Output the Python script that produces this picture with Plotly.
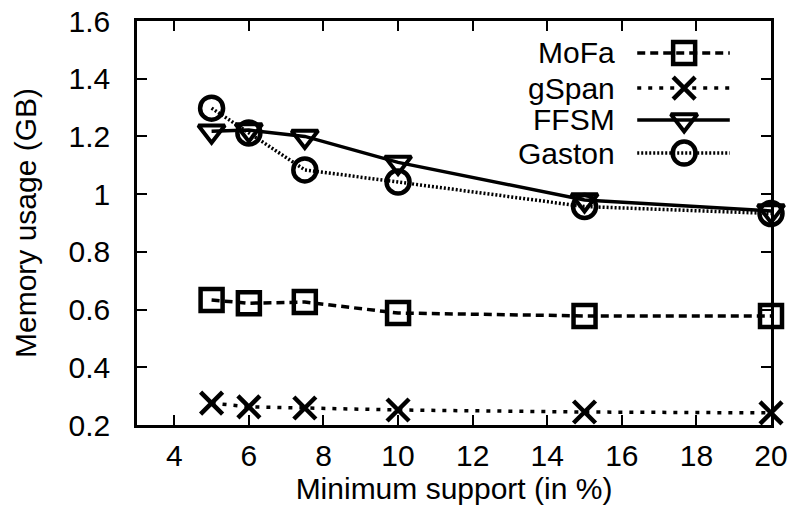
import plotly.graph_objects as go

support = [5, 6, 7.5, 10, 15, 20]
mofa = [0.633, 0.622, 0.626, 0.588, 0.578, 0.578]
gspan = [0.276, 0.263, 0.259, 0.252, 0.245, 0.242]
ffsm = [1.218, 1.222, 1.200, 1.110, 0.980, 0.942]
gaston = [1.298, 1.212, 1.084, 1.042, 0.957, 0.933]

x_ticks = [4, 6, 8, 10, 12, 14, 16, 18, 20]
y_ticks = [0.2, 0.4, 0.6, 0.8, 1.0, 1.2, 1.4, 1.6]
y_tick_text = ["0.2", "0.4", "0.6", "0.8", "1", "1.2", "1.4", "1.6"]

names = ["MoFa", "gSpan", "FFSM", "Gaston"]
series = [mofa, gspan, ffsm, gaston]
styles = [
    dict(dash="8px,5px", width=3.5, symbol="square-open", size=22, mlw=4.5),
    dict(dash="4px,7px", width=3.5, symbol="x-thin-open", size=22, mlw=4.5),
    dict(dash="solid", width=3.5, symbol="triangle-down-open", size=23, mlw=4),
    dict(dash="2px,2px", width=3.5, symbol="circle-open", size=23, mlw=4.5),
]

FONT = "Liberation Sans, Arial, Helvetica, sans-serif"
FS = 30
fig = go.Figure()

for name, ys, st in zip(names, series, styles):
    fig.add_trace(go.Scatter(
        x=support, y=ys, name=name, mode="lines+markers",
        line=dict(color="black", width=st["width"], dash=st["dash"]),
        marker=dict(symbol=st["symbol"], size=st["size"], color="black",
                    line=dict(color="black", width=st["mlw"])),
        showlegend=False, cliponaxis=False,
    ))

# legend (gnuplot style: text right-aligned, sample on the right), in an overlay 0..1 frame
leg_y = [0.921, 0.834, 0.755, 0.673]
for name, st, ly in zip(names, styles, leg_y):
    fig.add_trace(go.Scatter(
        x=[0.789, 0.863, 0.935], y=[ly] * 3, mode="lines",
        line=dict(color="black", width=st["width"], dash=st["dash"]),
        xaxis="x2", yaxis="y2", showlegend=False, hoverinfo="skip",
    ))
    fig.add_trace(go.Scatter(
        x=[0.863], y=[ly], mode="markers",
        marker=dict(symbol=st["symbol"], size=st["size"], color="black",
                    line=dict(color="black", width=st["mlw"])),
        xaxis="x2", yaxis="y2", showlegend=False, hoverinfo="skip",
    ))
    fig.add_annotation(x=0.757, y=ly, xref="x2", yref="y2", text=name,
                       showarrow=False, xanchor="right", yanchor="middle",
                       font=dict(size=FS, color="black", family=FONT))

axis_common = dict(
    showgrid=False, zeroline=False, showline=True, linecolor="black", linewidth=2.5,
    mirror="ticks", ticks="inside", ticklen=10, tickwidth=2, tickcolor="black",
    tickfont=dict(size=FS, color="black", family=FONT), automargin=False,
)

fig.update_layout(
    width=796, height=522,
    margin=dict(l=137, r=25, t=21, b=97),
    paper_bgcolor="white", plot_bgcolor="white",
    font=dict(family=FONT, color="black", size=FS),
    xaxis=dict(range=[3, 20], tickvals=x_ticks, ticklabelstandoff=2,
               title=dict(text="Minimum support (in %)", font=dict(size=FS), standoff=6),
               **axis_common),
    yaxis=dict(range=[0.2, 1.6], tickvals=y_ticks, ticktext=y_tick_text,
               ticklabelstandoff=18,
               title=dict(text="Memory usage (GB)", font=dict(size=FS), standoff=24),
               **axis_common),
    xaxis2=dict(range=[0, 1], overlaying="x", visible=False, fixedrange=True),
    yaxis2=dict(range=[0, 1], overlaying="y", visible=False, fixedrange=True),
)

fig.write_html("out.html", config={"displayModeBar": False},
               post_script="document.body.style.margin='0';")
